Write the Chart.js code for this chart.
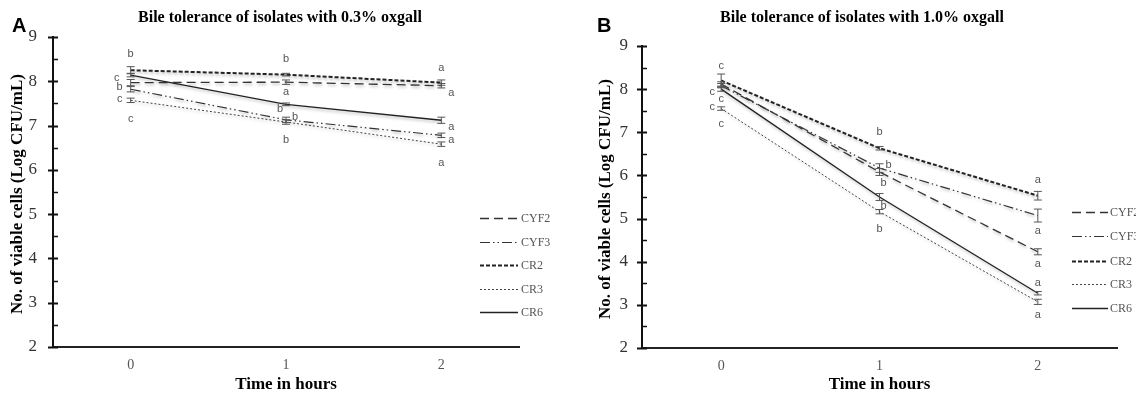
<!DOCTYPE html>
<html>
<head>
<meta charset="utf-8">
<script src="https://cdn.jsdelivr.net/npm/chart.js@4.4.1/dist/chart.umd.min.js"></script>
<style>
  html, body { margin: 0; padding: 0; background: #fff; }
  #wrap { position: relative; width: 1136px; height: 398px; overflow: hidden; }
  canvas { position: absolute; top: 0; }
  #cA { left: 0; }
  #cB { left: 568px; }
</style>
</head>
<body>
<div id="wrap">
  <canvas id="cA" width="568" height="398"></canvas>
  <canvas id="cB" width="568" height="398"></canvas>
</div>
<script>
// ---------------- DATA ----------------
const hours = ['0', '1', '2'];
const seriesNames = ['CYF2', 'CYF3', 'CR2', 'CR3', 'CR6'];
const yTickValues = [2, 3, 4, 5, 6, 7, 8, 9];

// Panel A: 0.3% oxgall (Log CFU/mL)
const a_CYF2 = [7.97, 7.98, 7.90];
const a_CYF3 = [7.82, 7.13, 6.78];
const a_CR2  = [8.25, 8.15, 7.97];
const a_CR3  = [7.57, 7.08, 6.58];
const a_CR6  = [8.14, 7.48, 7.12];
const a_CYF2_sd = [0.07, 0.05, 0.05];
const a_CYF3_sd = [0.06, 0.06, 0.05];
const a_CR2_sd  = [0.08, 0.03, 0.06];
const a_CR3_sd  = [0.05, 0.05, 0.05];
const a_CR6_sd  = [0.04, 0.03, 0.07];
const a_CYF2_sig = ['b', 'a', 'a'];
const a_CYF3_sig = ['c', 'b', 'a'];
const a_CR2_sig  = ['b', 'b', 'a'];
const a_CR3_sig  = ['c', 'b', 'a'];
const a_CR6_sig  = ['c', 'b', 'a'];

// Panel B: 1.0% oxgall (Log CFU/mL)
const b_CYF2 = [8.12, 6.08, 4.23];
const b_CYF3 = [8.08, 6.17, 5.07];
const b_CR2  = [8.20, 6.63, 5.53];
const b_CR3  = [7.55, 5.16, 3.07];
const b_CR6  = [8.00, 5.50, 3.27];
const b_CYF2_sd = [0.05, 0.08, 0.07];
const b_CYF3_sd = [0.05, 0.10, 0.15];
const b_CR2_sd  = [0.15, 0.04, 0.10];
const b_CR3_sd  = [0.04, 0.05, 0.06];
const b_CR6_sd  = [0.05, 0.08, 0.04];
const b_CYF2_sig = ['c', 'b', 'a'];
const b_CYF3_sig = ['c', 'b', 'a'];
const b_CR2_sig  = ['c', 'b', 'a'];
const b_CR3_sig  = ['c', 'b', 'a'];
const b_CR6_sig  = ['c', 'b', 'a'];

// ---------------- STYLE / LAYOUT ----------------
const SERIF = '"Liberation Serif", "Times New Roman", serif';
const SANS = '"Liberation Sans", Arial, sans-serif';
const lineStyles = {
  CYF2: { dash: [9, 5], width: 1.3, color: '#333' },
  CYF3: { dash: [10, 3, 1.5, 3, 1.5, 3], width: 1.2, color: '#333' },
  CR2:  { dash: [4, 2], width: 2, color: '#222' },
  CR3:  { dash: [2, 2], width: 1, color: '#444' },
  CR6:  { dash: [], width: 1.3, color: '#222' }
};
// pixel offsets of the significance letters relative to each point
const letterOffsetsA = {
  CYF2: [[-11, 4], [0, 10], [10, 7]],
  CYF3: [[-11, 10], [9, -3], [10, 5]],
  CR2:  [[0, -16], [0, -16], [0, -15]],
  CR3:  [[0, 19], [0, 18], [0, 19]],
  CR6:  [[-14, 3], [-6, 5], [10, 7]]
};
const letterOffsetsB = {
  CYF2: [[-9, 8], [4, 11], [0, 12]],
  CYF3: [[0, 13], [9, -3], [0, 15]],
  CR2:  [[0, -15], [0, -16], [0, -16]],
  CR3:  [[0, 15], [0, 17], [0, 13]],
  CR6:  [[-9, 18], [4, 9], [0, -10]]
};

const panelA = {
  id: 'cA', panel: 'A', title: 'Bile tolerance of isolates with 0.3% oxgall',
  values: { CYF2: a_CYF2, CYF3: a_CYF3, CR2: a_CR2, CR3: a_CR3, CR6: a_CR6 },
  sds: { CYF2: a_CYF2_sd, CYF3: a_CYF3_sd, CR2: a_CR2_sd, CR3: a_CR3_sd, CR6: a_CR6_sd },
  sig: { CYF2: a_CYF2_sig, CYF3: a_CYF3_sig, CR2: a_CR2_sig, CR3: a_CR3_sig, CR6: a_CR6_sig },
  offsets: letterOffsetsA,
  box: { left: 53, right: 519, top: 37, bottom: 347 },
  tickPad: 16,
  panelPos: [12, 26], titlePos: [280, 18], yTitleX: 18,
  legend: { x0: 480, x1: 518, tx: 521, rows: [218, 242, 265, 289, 312] }
};
const panelB = {
  id: 'cB', panel: 'B', title: 'Bile tolerance of isolates with 1.0% oxgall',
  values: { CYF2: b_CYF2, CYF3: b_CYF3, CR2: b_CR2, CR3: b_CR3, CR6: b_CR6 },
  sds: { CYF2: b_CYF2_sd, CYF3: b_CYF3_sd, CR2: b_CR2_sd, CR3: b_CR3_sd, CR6: b_CR6_sd },
  sig: { CYF2: b_CYF2_sig, CYF3: b_CYF3_sig, CR2: b_CR2_sig, CR3: b_CR3_sig, CR6: b_CR6_sig },
  offsets: letterOffsetsB,
  box: { left: 74, right: 549, top: 46, bottom: 348 },
  tickPad: 14,
  panelPos: [29, 26], titlePos: [294, 18], yTitleX: 38,
  legend: { x0: 504, x1: 540, tx: 542, rows: [212, 236, 261, 284, 308] }
};

function buildChart(P) {
  const W = 568, H = 398;
  const datasets = seriesNames.map(name => ({
    label: name,
    data: P.values[name],
    sd: P.sds[name],
    sig: P.sig[name],
    offs: P.offsets[name],
    borderColor: lineStyles[name].color,
    borderWidth: lineStyles[name].width,
    borderDash: lineStyles[name].dash,
    backgroundColor: 'transparent',
    pointRadius: 0,
    tension: 0,
    fill: false
  }));

  const shadowPlugin = {
    id: 'shadow',
    beforeDatasetsDraw(chart) {
      const ctx = chart.ctx;
      ctx.save();
      ctx.shadowColor = 'rgba(0,0,0,0.28)';
      ctx.shadowBlur = 3;
      ctx.shadowOffsetX = 1;
      ctx.shadowOffsetY = 2;
    },
    afterDatasetsDraw(chart) { chart.ctx.restore(); }
  };

  const decorPlugin = {
    id: 'decor',
    afterDraw(chart) {
      const ctx = chart.ctx;
      const ys = chart.scales.y;
      const ax = chart.chartArea.left;
      // y ticks: major crossing, minor inside
      ctx.save();
      ctx.strokeStyle = '#111';
      for (let v = ys.min; v <= ys.max + 1e-9; v += 0.5) {
        const y = Math.round(ys.getPixelForValue(v)) + 0.5;
        const major = Math.abs(v - Math.round(v)) < 1e-6;
        ctx.lineWidth = major ? 2 : 1.5;
        ctx.beginPath();
        ctx.moveTo(major ? ax - 5 : ax, y);
        ctx.lineTo(ax + 5, y);
        ctx.stroke();
      }
      ctx.restore();

      // error bars
      ctx.save();
      ctx.strokeStyle = '#555';
      ctx.lineWidth = 1;
      chart.data.datasets.forEach((ds, di) => {
        const meta = chart.getDatasetMeta(di);
        ds.data.forEach((v, i) => {
          const x = meta.data[i].x;
          const yT = ys.getPixelForValue(v + ds.sd[i]);
          const yB = ys.getPixelForValue(v - ds.sd[i]);
          ctx.beginPath();
          ctx.moveTo(x, yT); ctx.lineTo(x, yB);
          ctx.moveTo(x - 4, yT); ctx.lineTo(x + 4, yT);
          ctx.moveTo(x - 4, yB); ctx.lineTo(x + 4, yB);
          ctx.stroke();
        });
      });
      ctx.restore();

      // significance letters
      ctx.save();
      ctx.fillStyle = '#555';
      ctx.font = '11px ' + SANS;
      ctx.textAlign = 'center';
      ctx.textBaseline = 'middle';
      chart.data.datasets.forEach((ds, di) => {
        const meta = chart.getDatasetMeta(di);
        ds.data.forEach((v, i) => {
          const x = meta.data[i].x;
          const y = meta.data[i].y;
          ctx.fillText(ds.sig[i], x + ds.offs[i][0], y + ds.offs[i][1]);
        });
      });
      ctx.restore();

      // panel letter, title, axis titles
      ctx.save();
      ctx.fillStyle = '#000';
      ctx.textBaseline = 'middle';
      ctx.textAlign = 'left';
      ctx.font = 'bold 20px ' + SANS;
      ctx.fillText(P.panel, P.panelPos[0], P.panelPos[1]);
      ctx.textAlign = 'center';
      ctx.font = 'bold 16px ' + SERIF;
      ctx.fillText(P.title, P.titlePos[0], P.titlePos[1]);
      ctx.font = 'bold 17px ' + SERIF;
      const ca = chart.chartArea;
      ctx.fillText('Time in hours', (ca.left + ca.right) / 2, 385);
      ctx.save();
      ctx.translate(P.yTitleX, (ca.top + ca.bottom) / 2 + 2);
      ctx.rotate(-Math.PI / 2);
      ctx.fillText('No. of viable cells (Log CFU/mL)', 0, 0);
      ctx.restore();
      ctx.restore();

      // legend
      ctx.save();
      chart.data.datasets.forEach((ds, di) => {
        const y = P.legend.rows[di] + 0.5;
        ctx.strokeStyle = ds.borderColor;
        ctx.lineWidth = ds.borderWidth;
        ctx.setLineDash(ds.borderDash);
        ctx.beginPath();
        ctx.moveTo(P.legend.x0, y);
        ctx.lineTo(P.legend.x1, y);
        ctx.stroke();
        ctx.setLineDash([]);
        ctx.fillStyle = '#555';
        ctx.font = '12px ' + SERIF;
        ctx.textAlign = 'left';
        ctx.textBaseline = 'middle';
        ctx.fillText(ds.label, P.legend.tx, y);
      });
      ctx.restore();
    }
  };

  return new Chart(document.getElementById(P.id), {
    type: 'line',
    data: { labels: hours, datasets },
    plugins: [shadowPlugin, decorPlugin],
    options: {
      responsive: false,
      animation: false,
      devicePixelRatio: 1,
      layout: { padding: { top: P.box.top, right: W - P.box.right, left: 0, bottom: 0 } },
      plugins: { legend: { display: false }, tooltip: { enabled: false }, title: { display: false } },
      scales: {
        x: {
          type: 'category',
          offset: true,
          grid: { display: true, drawOnChartArea: false, drawTicks: false, color: 'rgba(0,0,0,0)' },
          border: { display: true, width: 2, color: '#222' },
          ticks: { padding: 10, color: '#555', font: { family: SERIF, size: 14 } },
          afterFit: s => { s.height = H - P.box.bottom; }
        },
        y: {
          min: 2, max: 9,
          afterBuildTicks: s => { s.ticks = yTickValues.map(v => ({ value: v })); },
          grid: { display: true, drawOnChartArea: false, drawTicks: false, color: 'rgba(0,0,0,0)' },
          border: { display: true, width: 2, color: '#111' },
          ticks: { padding: P.tickPad, color: '#333', font: { family: SERIF, size: 17 } },
          afterFit: s => { s.width = P.box.left; }
        }
      }
    }
  });
}

buildChart(panelA);
buildChart(panelB);
</script>
</body>
</html>
